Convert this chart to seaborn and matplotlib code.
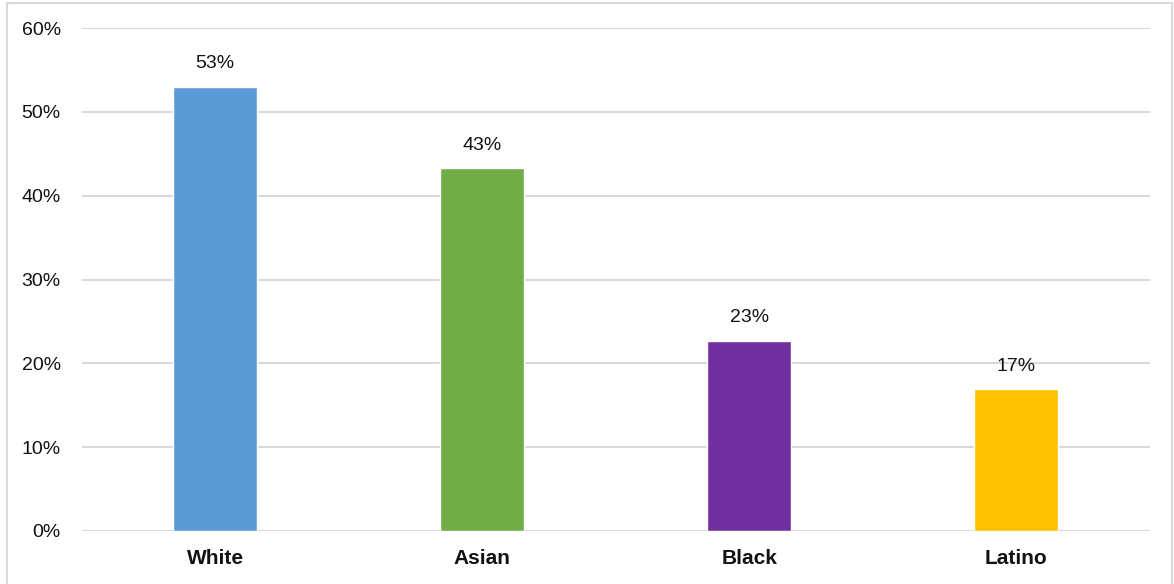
import matplotlib
matplotlib.use("Agg")
import matplotlib.pyplot as plt
import seaborn as sns
import pandas as pd
from matplotlib.patches import Rectangle

groups = ["White", "Asian", "Black", "Latino"]
shares = [53.0, 43.3, 22.7, 16.9]
palette = ["#5B9BD5", "#70AD47", "#7030A0", "#FFC000"]
y_ticks = [0, 10, 20, 30, 40, 50, 60]
y_tick_labels = ["0%", "10%", "20%", "30%", "40%", "50%", "60%"]

sns.set_theme(style="white")
plt.rcParams["font.family"] = ["Liberation Sans", "DejaVu Sans"]

df = pd.DataFrame({"group": groups, "share": shares})

fig = plt.figure(figsize=(11.74, 5.84), dpi=100)
ax = fig.add_axes([0.0695, 0.0908, 0.910, 0.861])

sns.barplot(data=df, x="group", y="share", hue="group", palette=palette,
            width=0.315, saturation=1, legend=False, ax=ax, zorder=3)

ax.set_ylim(0, 60)
ax.set_yticks(y_ticks)
ax.set_yticklabels(y_tick_labels, fontsize=14, color="#111111")
ax.yaxis.grid(True, color="#D9D9D9", linewidth=1.5, zorder=0)
ax.set_axisbelow(True)
ax.set_xlabel("")
ax.set_ylabel("")
for side in ["top", "right", "left", "bottom"]:
    ax.spines[side].set_visible(False)
ax.tick_params(axis="y", length=0, pad=15)
ax.tick_params(axis="x", length=0, pad=13)
for lbl in ax.get_xticklabels():
    lbl.set_fontsize(15)
    lbl.set_fontweight("bold")
    lbl.set_color("#111111")

for i, v in enumerate(shares):
    ax.annotate(f"{v:.0f}%", xy=(i, v), xytext=(0, 16.5), textcoords="offset points",
                ha="center", va="center", fontsize=14, color="#111111")

# light chart frame
fig.add_artist(Rectangle((0.006, -0.02), 0.992, 1.015, transform=fig.transFigure,
                         fill=False, edgecolor="#D9D9D9", linewidth=1.5))

fig.savefig("out.png", dpi=100)
